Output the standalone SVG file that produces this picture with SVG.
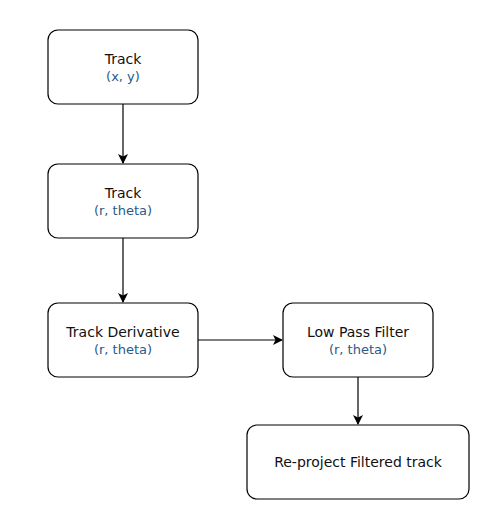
<svg xmlns="http://www.w3.org/2000/svg" width="492" height="521" viewBox="0 0 492 521">
<style>
.box{fill:#fff;stroke:#000;stroke-width:1.2}
.t{font-family:"DejaVu Sans","Open Sans",sans-serif;font-size:14px;fill:#111;text-anchor:middle}
.s{font-family:"DejaVu Sans","Open Sans",sans-serif;font-size:13px;fill:#2a5a88;text-anchor:middle}
.c{stroke:#000;stroke-width:1.2;fill:none;marker-end:url(#a)}
</style>
<defs>
<marker id="a" viewBox="0 0 10 10" refX="9" refY="5" markerWidth="10" markerHeight="10" markerUnits="userSpaceOnUse" orient="auto">
<path d="M0,0 L10,5 L0,10 L2.5,5 Z" fill="#000"/>
</marker>
</defs>
<rect width="492" height="521" fill="#fff"/>
<g id="connectors">
<line class="c" x1="123" y1="104" x2="123" y2="163"/>
<line class="c" x1="123" y1="238" x2="123" y2="302"/>
<line class="c" x1="198" y1="340" x2="282" y2="340"/>
<line class="c" x1="358" y1="377" x2="358" y2="424"/>
</g>
<g id="node-track-xy">
<rect class="box" x="48" y="30" width="150" height="74" rx="10"/>
<text class="t" x="123" y="64">Track</text>
<text class="s" x="123" y="81">(x, y)</text>
</g>
<g id="node-track-rtheta">
<rect class="box" x="48" y="164" width="150" height="74" rx="10"/>
<text class="t" x="123" y="198">Track</text>
<text class="s" x="123" y="215">(r, theta)</text>
</g>
<g id="node-track-derivative">
<rect class="box" x="48" y="303" width="150" height="74" rx="10"/>
<text class="t" x="123" y="337">Track Derivative</text>
<text class="s" x="123" y="354">(r, theta)</text>
</g>
<g id="node-low-pass">
<rect class="box" x="283" y="303" width="150" height="74" rx="10"/>
<text class="t" x="358" y="337">Low Pass Filter</text>
<text class="s" x="358" y="354">(r, theta)</text>
</g>
<g id="node-reproject">
<rect class="box" x="247" y="425" width="222" height="74" rx="10"/>
<text class="t" x="358" y="467">Re-project Filtered track</text>
</g>
</svg>
